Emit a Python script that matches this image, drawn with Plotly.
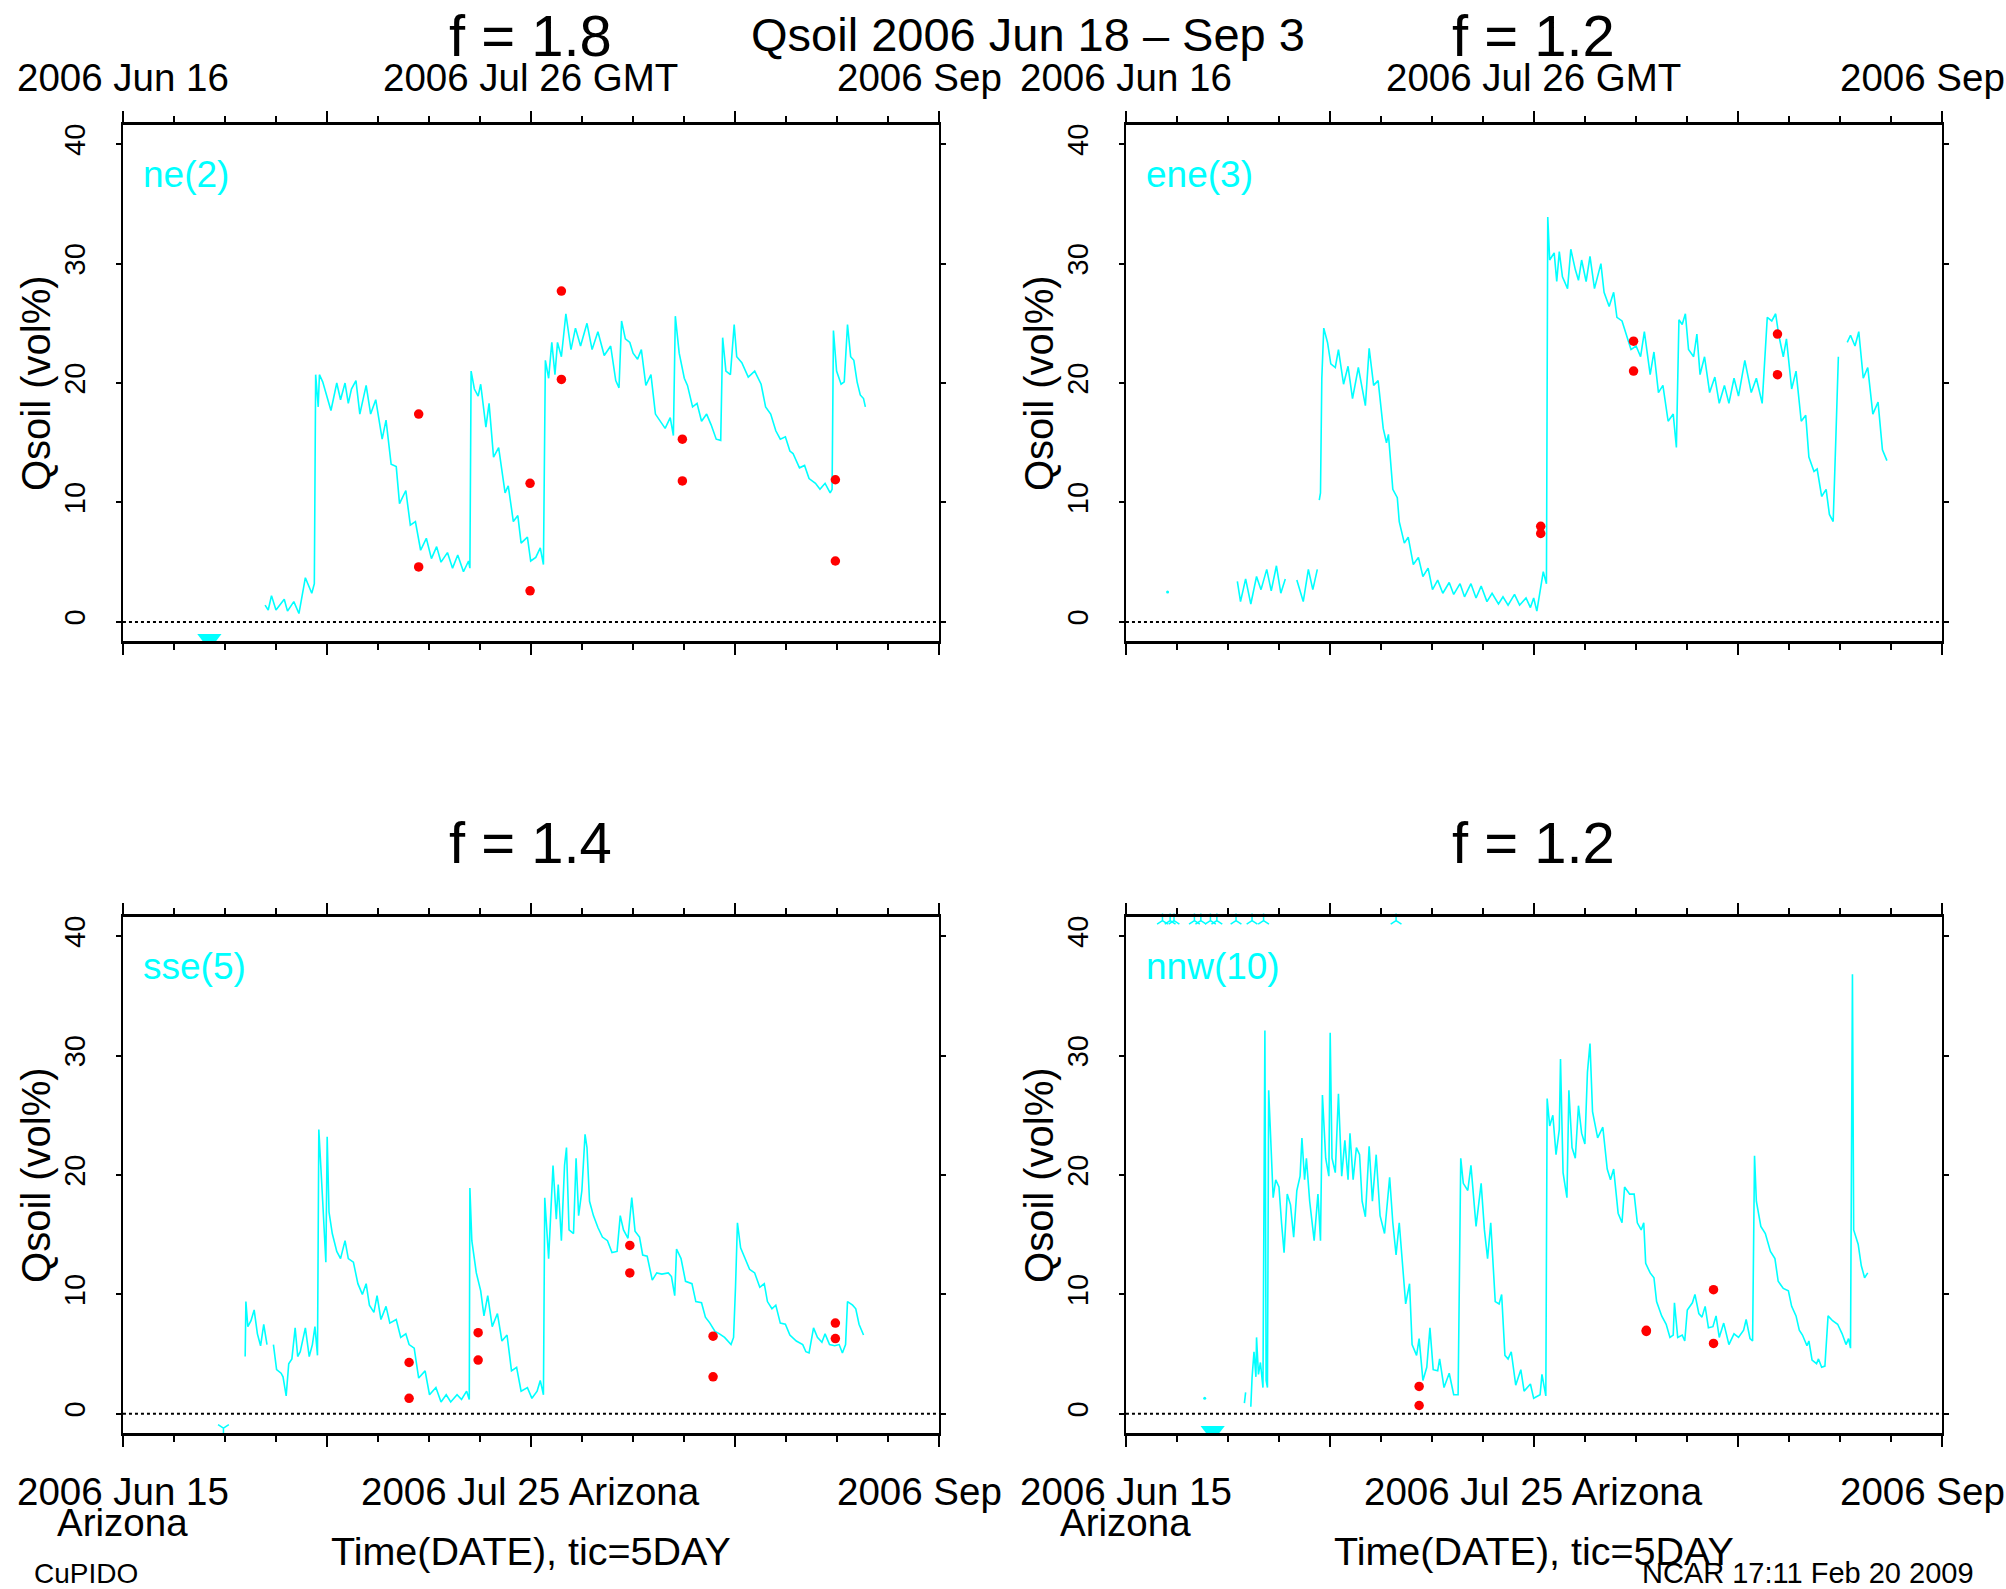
import plotly.graph_objects as go
import pandas as pd

# ---------------- time axis (GMT) ----------------
T0 = pd.Timestamp("2006-06-16 00:00:00")
SPAN_DAYS = 80
MAJOR_DAYS = 20
MINOR_DAYS = 5
Y_RANGE = [-1.6, 41.6]
Y_TICKS = [0, 10, 20, 30, 40]

MAIN_TITLE = "Qsoil 2006 Jun 18 – Sep 3"
PANEL_TITLES = ["f = 1.8", "f = 1.2", "f = 1.4", "f = 1.2"]
STATIONS = ["ne(2)", "ene(3)", "sse(5)", "nnw(10)"]
TOP_TICK_LABELS = ["2006 Jun 16", "2006 Jul 26 GMT", "2006 Sep"]
BOTTOM_TICK_LABELS = ["2006 Jun 15", "2006 Jul 25 Arizona", "2006 Sep"]
BOTTOM_SUBLABEL = "Arizona"
X_TITLE = "Time(DATE), tic=5DAY"
Y_TITLE = "Qsoil (vol%)"
FOOT_LEFT = "CuPIDO"
FOOT_RIGHT = "NCAR 17:11 Feb 20 2009"

# ---------------- series: (days since 2006 Jun 16 00 GMT, Qsoil vol%) ----------------
NE2_SERIES = [
    (13.93, 1.4), (14.24, 1.0), (14.56, 2.2), (15.00, 1.0), (15.81, 1.9), (16.13, 0.9), (16.75, 1.7),
    (17.25, 0.7), (17.88, 3.7), (18.51, 2.4), (18.76, 3.2), (18.89, 20.7), (19.14, 18.0), (19.26, 20.7),
    (19.58, 20.1), (20.39, 17.7), (20.96, 20.0), (21.33, 18.6), (21.77, 20.0), (22.09, 18.3), (22.40, 19.5),
    (22.84, 20.2), (23.22, 17.4), (23.84, 19.8), (24.28, 17.4), (24.78, 18.6), (25.41, 15.3), (25.79, 16.9),
    (26.29, 13.2), (26.79, 13.0), (27.11, 9.9), (27.73, 11.0), (28.17, 8.1), (28.67, 8.4), (29.18, 6.0),
    (29.74, 7.0), (30.24, 5.3), (30.75, 6.3), (31.18, 5.0), (31.81, 5.8), (32.31, 4.5), (32.82, 5.6),
    (33.38, 4.2), (33.88, 5.1), (34.01, 4.5), (34.13, 21.0), (34.45, 19.5), (34.82, 18.9), (35.07, 19.9),
    (35.58, 16.3), (35.89, 18.3), (36.33, 13.8), (36.83, 14.6), (37.46, 10.8), (37.77, 11.4), (38.27, 8.4),
    (38.71, 8.9), (39.03, 6.6), (39.65, 7.1), (39.97, 5.1), (40.47, 5.4), (40.91, 6.2), (41.22, 4.8),
    (41.41, 21.9), (41.73, 20.4), (42.04, 23.4), (42.35, 20.7), (42.60, 23.4), (42.98, 22.2), (43.42, 25.8),
    (43.92, 22.8), (44.36, 24.6), (44.86, 23.1), (45.49, 25.0), (45.99, 22.8), (46.56, 24.3), (47.18, 22.3),
    (47.81, 23.1), (48.31, 20.2), (48.63, 19.6), (48.88, 25.2), (49.25, 23.7), (49.69, 23.4), (50.01, 22.5),
    (50.45, 22.0), (50.82, 22.8), (51.26, 19.8), (51.76, 20.7), (52.20, 17.4), (52.71, 16.8), (53.15, 16.2),
    (53.65, 17.1), (53.96, 15.6), (54.15, 25.6), (54.53, 22.5), (55.03, 20.4), (55.34, 19.8), (55.84, 18.0),
    (56.28, 18.3), (56.72, 16.8), (57.22, 17.4), (57.66, 16.5), (58.16, 15.3), (58.60, 15.2), (58.79, 23.8),
    (59.11, 21.0), (59.55, 20.7), (59.92, 24.9), (60.17, 22.2), (60.67, 21.7), (61.30, 20.5), (61.93, 21.0),
    (62.56, 19.9), (63.00, 18.0), (63.50, 17.4), (64.00, 16.0), (64.44, 15.3), (64.94, 15.5), (65.38, 14.3),
    (65.69, 14.1), (66.32, 12.9), (66.82, 13.1), (67.26, 12.0), (67.89, 11.6), (68.33, 11.1), (68.83, 11.6),
    (69.33, 10.8), (69.52, 11.1), (69.65, 24.4), (69.96, 21.0), (70.40, 19.9), (70.71, 20.1), (71.03, 24.9),
    (71.34, 22.2), (71.65, 21.9), (71.97, 20.1), (72.28, 19.0), (72.60, 18.7), (72.78, 18.0),
]

ENE3_SERIES = [
    (10.92, 3.4), (11.23, 1.7), (11.73, 3.6), (12.24, 1.5), (12.80, 3.8), (13.24, 2.7), (13.80, 4.4),
    (14.24, 2.6), (14.75, 4.7), (15.18, 2.4), (15.62, 3.6), (16.20, None), (16.75, 3.5), (17.38, 1.7),
    (17.88, 4.4), (18.32, 2.7), (18.76, 4.4), (18.85, None), (18.95, 10.2), (19.07, 10.8), (19.20, 20.4),
    (19.39, 24.6), (19.76, 23.4), (20.08, 21.6), (20.52, 21.3), (20.83, 22.8), (21.33, 19.9), (21.77, 21.4),
    (22.21, 18.7), (22.78, 21.3), (23.47, 18.1), (23.84, 22.9), (24.28, 19.8), (24.72, 20.2), (25.22, 16.2),
    (25.54, 15.0), (25.73, 15.7), (26.16, 11.1), (26.60, 10.4), (26.79, 8.4), (27.29, 6.6), (27.67, 7.1),
    (28.17, 4.8), (28.67, 5.4), (29.11, 3.8), (29.62, 4.5), (30.05, 2.7), (30.56, 3.5), (31.06, 2.4),
    (31.69, 3.3), (32.13, 2.3), (32.75, 3.2), (33.19, 2.1), (33.82, 3.2), (34.32, 2.0), (34.82, 3.0),
    (35.39, 1.7), (35.89, 2.4), (36.52, 1.5), (36.96, 2.1), (37.46, 1.4), (38.09, 2.3), (38.59, 1.4),
    (39.22, 2.0), (39.65, 1.2), (39.97, 2.0), (40.28, 0.9), (40.60, 2.4), (40.91, 4.2), (41.22, 3.2),
    (41.35, 33.9), (41.54, 30.3), (41.98, 30.9), (42.23, 28.5), (42.48, 31.0), (42.79, 28.9), (43.29, 27.9),
    (43.61, 31.2), (44.05, 29.5), (44.36, 28.6), (44.67, 30.3), (45.11, 28.5), (45.49, 30.6), (45.93, 27.9),
    (46.56, 30.0), (46.87, 27.6), (47.37, 26.4), (47.81, 27.6), (48.13, 25.5), (48.63, 25.2), (49.07, 24.0),
    (49.51, 22.8), (50.01, 23.1), (50.45, 22.2), (50.82, 24.3), (51.39, 20.7), (51.76, 22.6), (52.20, 19.2),
    (52.64, 19.8), (53.15, 16.8), (53.65, 17.4), (53.96, 14.6), (54.21, 25.3), (54.53, 24.9), (54.84, 25.8),
    (55.15, 22.8), (55.65, 22.2), (55.97, 24.1), (56.28, 20.7), (56.72, 22.2), (57.22, 19.2), (57.73, 20.5),
    (58.16, 18.3), (58.67, 19.8), (59.11, 18.3), (59.61, 20.4), (60.05, 18.9), (60.67, 21.9), (61.30, 19.2),
    (61.80, 20.4), (62.37, 18.3), (62.87, 25.5), (63.31, 25.2), (63.69, 25.8), (64.00, 24.0), (64.44, 22.2),
    (64.75, 23.7), (65.26, 19.5), (65.69, 21.0), (66.20, 16.8), (66.64, 17.3), (66.95, 13.8), (67.45, 12.6),
    (67.76, 12.8), (68.20, 10.5), (68.64, 11.1), (68.96, 9.0), (69.33, 8.4), (69.59, 15.3), (69.84, 22.2),
    (70.30, None), (70.71, 23.4), (71.03, 24.0), (71.47, 23.1), (71.84, 24.3), (72.28, 20.4), (72.72, 21.3),
    (73.22, 17.4), (73.73, 18.4), (74.16, 14.4), (74.60, 13.5),
]

SSE5_SERIES = [
    (11.98, 4.8), (12.05, 9.4), (12.24, 7.3), (12.55, 7.8), (12.86, 8.7), (13.18, 6.7), (13.49, 5.7),
    (13.80, 7.5), (14.12, 5.8), (14.40, None), (14.75, 5.8), (15.06, 3.7), (15.50, 3.4), (15.69, 3.1),
    (16.00, 1.5), (16.25, 4.2), (16.56, 4.6), (16.88, 7.2), (17.13, 4.8), (17.38, 5.2), (17.88, 7.2),
    (18.26, 4.8), (18.57, 5.8), (18.82, 7.3), (19.07, 4.9), (19.20, 23.8), (19.58, 17.8), (19.89, 12.7),
    (20.02, 23.2), (20.20, 16.9), (20.52, 15.1), (20.96, 13.6), (21.33, 13.0), (21.77, 14.5), (22.09, 13.0),
    (22.59, 12.7), (23.03, 10.9), (23.47, 10.0), (23.84, 10.9), (24.16, 9.1), (24.60, 8.5), (24.91, 9.9),
    (25.29, 7.9), (25.79, 9.0), (26.16, 7.6), (26.79, 7.9), (27.23, 6.4), (27.73, 6.7), (28.05, 5.8),
    (28.55, 5.5), (28.99, 3.0), (29.62, 3.6), (30.05, 1.6), (30.68, 2.2), (31.18, 1.0), (31.69, 1.6),
    (32.13, 1.0), (32.75, 1.6), (33.19, 1.2), (33.69, 1.9), (33.95, 1.2), (34.01, 18.9), (34.20, 14.5),
    (34.64, 11.8), (35.07, 10.3), (35.39, 8.2), (35.76, 9.9), (36.20, 7.3), (36.71, 8.4), (37.15, 6.1),
    (37.65, 6.6), (38.09, 3.6), (38.59, 3.9), (39.03, 1.9), (39.65, 2.2), (40.09, 1.3), (40.60, 1.9),
    (40.91, 2.8), (41.22, 1.6), (41.35, 18.1), (41.73, 13.0), (42.16, 20.8), (42.48, 16.3), (42.67, 19.2),
    (42.98, 14.5), (43.29, 20.8), (43.48, 22.3), (43.73, 15.4), (44.17, 15.1), (44.42, 21.4), (44.67, 16.6),
    (44.99, 18.7), (45.30, 23.4), (45.49, 22.3), (45.74, 17.8), (46.12, 16.6), (46.56, 15.6), (47.00, 14.8),
    (47.50, 14.5), (47.94, 13.5), (48.44, 13.6), (48.75, 16.6), (49.07, 15.4), (49.51, 14.7), (49.88, 18.1),
    (50.20, 15.3), (50.64, 14.8), (50.95, 13.3), (51.39, 13.2), (51.89, 11.2), (52.33, 11.8), (52.83, 11.7),
    (53.46, 11.8), (53.77, 11.5), (54.09, 9.9), (54.27, 13.8), (54.71, 13.0), (55.15, 11.1), (55.78, 10.9),
    (56.16, 9.4), (56.72, 9.3), (57.10, 8.1), (57.54, 7.6), (58.04, 6.9), (58.48, 6.7), (58.98, 6.4),
    (59.61, 5.8), (59.86, 6.4), (60.05, 10.6), (60.24, 16.0), (60.55, 13.9), (60.99, 13.0), (61.43, 12.1),
    (61.93, 11.8), (62.43, 10.6), (62.87, 10.9), (63.18, 9.4), (63.62, 8.8), (64.00, 9.1), (64.44, 7.6),
    (64.94, 7.5), (65.38, 6.6), (66.01, 6.1), (66.64, 5.8), (66.95, 5.2), (67.26, 5.1), (67.70, 7.2),
    (68.08, 6.4), (68.52, 6.0), (68.83, 6.7), (69.27, 5.8), (69.77, 5.7), (70.21, 5.8), (70.53, 5.1),
    (70.84, 5.8), (71.03, 9.4), (71.53, 9.1), (71.84, 8.8), (72.16, 7.5), (72.60, 6.6),
]

NNW10_SERIES = [
    (11.61, 0.9), (11.73, 1.8), (12.00, None), (12.24, 0.6), (12.36, 3.0), (12.55, 5.2), (12.74, 3.1),
    (12.80, 6.4), (12.99, 3.3), (13.18, 4.3), (13.43, 2.2), (13.62, 32.1), (13.74, 2.8), (13.87, 2.2),
    (13.99, 27.1), (14.24, 22.0), (14.43, 18.1), (14.68, 19.6), (15.00, 19.0), (15.25, 16.0), (15.50, 13.5),
    (15.81, 18.4), (16.13, 17.5), (16.44, 14.8), (16.75, 18.7), (17.07, 19.9), (17.25, 23.1), (17.51, 19.6),
    (17.69, 21.4), (18.01, 17.8), (18.45, 14.5), (18.82, 18.4), (19.07, 14.5), (19.26, 26.7), (19.58, 21.4),
    (19.89, 19.9), (20.02, 31.9), (20.20, 21.4), (20.52, 20.2), (20.83, 26.8), (21.15, 19.9), (21.46, 22.9),
    (21.77, 19.6), (21.96, 23.5), (22.27, 19.6), (22.59, 22.3), (22.90, 21.7), (23.15, 17.8), (23.47, 16.5),
    (23.84, 22.4), (24.16, 17.8), (24.53, 21.7), (24.91, 16.6), (25.35, 15.1), (25.85, 19.8), (26.16, 16.0),
    (26.48, 13.3), (26.79, 16.0), (27.23, 11.5), (27.42, 9.2), (27.80, 10.9), (28.05, 5.8), (28.49, 4.9),
    (28.74, 6.3), (29.11, 2.8), (29.49, 3.9), (29.80, 7.2), (30.12, 3.7), (30.56, 3.6), (30.75, 4.6),
    (31.18, 2.2), (31.69, 3.4), (32.13, 1.6), (32.56, 1.6), (32.82, 21.4), (33.07, 19.3), (33.51, 18.7),
    (33.82, 20.8), (34.32, 15.7), (34.82, 19.3), (35.14, 15.4), (35.45, 13.0), (35.76, 16.0), (36.20, 9.4),
    (36.58, 9.2), (36.83, 10.0), (37.15, 4.9), (37.46, 4.6), (37.77, 5.2), (38.21, 2.4), (38.71, 3.7),
    (39.03, 1.9), (39.65, 2.5), (39.97, 1.3), (40.60, 1.6), (40.78, 3.3), (41.16, 1.5), (41.29, 26.4),
    (41.54, 24.1), (41.85, 25.0), (42.16, 21.7), (42.48, 23.8), (42.60, 29.7), (42.85, 20.2), (43.23, 18.1),
    (43.42, 27.1), (43.73, 22.3), (44.05, 21.4), (44.36, 25.8), (44.67, 23.5), (44.99, 22.6), (45.24, 28.6),
    (45.49, 31.0), (45.74, 25.3), (46.24, 23.1), (46.75, 24.0), (47.18, 20.5), (47.50, 19.6), (47.81, 20.5),
    (48.25, 16.8), (48.63, 16.0), (48.88, 19.0), (49.38, 18.4), (49.82, 18.4), (50.13, 16.0), (50.51, 15.4),
    (50.76, 16.0), (50.95, 12.6), (51.39, 11.8), (51.76, 11.4), (52.02, 9.4), (52.52, 8.2), (52.96, 7.5),
    (53.33, 6.4), (53.65, 6.6), (53.77, 9.3), (54.09, 6.4), (54.53, 6.6), (54.78, 6.1), (55.03, 8.7),
    (55.53, 9.3), (55.78, 10.0), (56.16, 8.4), (56.47, 8.1), (56.78, 9.0), (57.10, 7.2), (57.54, 7.3),
    (57.85, 8.2), (58.16, 6.4), (58.60, 7.6), (59.11, 5.8), (59.61, 6.7), (60.05, 6.4), (60.55, 7.0),
    (60.80, 7.9), (61.18, 6.3), (61.43, 6.1), (61.62, 21.6), (61.80, 17.8), (62.24, 15.7), (62.68, 15.1),
    (63.18, 13.6), (63.62, 13.0), (63.94, 11.1), (64.44, 10.5), (64.94, 10.3), (65.26, 9.0), (65.69, 8.2),
    (66.01, 7.0), (66.32, 6.6), (66.76, 5.7), (66.95, 6.1), (67.26, 4.5), (67.70, 4.2), (67.89, 4.6),
    (68.20, 3.9), (68.52, 4.0), (68.83, 8.2), (69.27, 7.8), (69.77, 7.5), (70.21, 6.7), (70.59, 5.8),
    (70.84, 6.3), (71.03, 5.5), (71.22, 36.8), (71.34, 15.4), (71.78, 14.2), (72.09, 12.4), (72.41, 11.4),
    (72.72, 11.8),
]

# isolated single samples (days, value)
ISOLATED = [[], [(4.08, 2.5)], [], [(7.72, 1.3)]]

# observed (gravimetric) samples, red dots
NE2_OBS_DAYS = [28.99, 28.99, 39.91, 39.91, 42.98, 42.98, 54.84, 54.84, 69.84, 69.84]
NE2_OBS_Q = [17.4, 4.6, 11.6, 2.6, 27.7, 20.3, 15.3, 11.8, 11.9, 5.1]
ENE3_OBS_DAYS = [40.66, 40.66, 49.76, 49.76, 63.87, 63.87]
ENE3_OBS_Q = [8.0, 7.4, 23.5, 21.0, 24.1, 20.7]
SSE5_OBS_DAYS = [28.05, 28.05, 34.82, 34.82, 49.69, 49.69, 57.85, 57.85, 69.84, 69.84]
SSE5_OBS_Q = [4.3, 1.3, 6.8, 4.5, 14.1, 11.8, 6.5, 3.1, 7.6, 6.3]
NNW10_OBS_DAYS = [28.74, 28.74, 51.01, 51.01, 57.60, 57.60]
NNW10_OBS_Q = [2.3, 0.7, 7.0, 6.9, 10.4, 5.9]

# off-scale flags: (days, value, symbol)
LOW_FLAGS = [[(8.47, -1.46, "triangle-down")], [], [(9.85, -1.2, "y-down")], [(8.50, -1.45, "triangle-down")]]
HIGH_FLAG_DAYS = [[], [], [], [3.58, 4.33, 4.71, 6.71, 7.34, 8.28, 8.91, 10.79, 12.36, 13.49, 26.48]]
HIGH_FLAG_VALUE = 41.3

# ---------------- styling ----------------
FONT = "Liberation Sans, Arial, Helvetica, sans-serif"
CYAN = "#00FFFF"
W, H = 2006, 1589
X_DOMAINS = [[0.0613, 0.4681], [0.5613, 0.9681], [0.0613, 0.4681], [0.5613, 0.9681]]
Y_DOMAINS = [[0.5966, 0.9213], [0.5966, 0.9213], [0.0982, 0.4229], [0.0982, 0.4229]]
DAY_MS = 86400000


def to_time(days):
    return [T0 + pd.Timedelta(days=d) for d in days]


SERIES = [NE2_SERIES, ENE3_SERIES, SSE5_SERIES, NNW10_SERIES]
OBS = [(NE2_OBS_DAYS, NE2_OBS_Q), (ENE3_OBS_DAYS, ENE3_OBS_Q),
       (SSE5_OBS_DAYS, SSE5_OBS_Q), (NNW10_OBS_DAYS, NNW10_OBS_Q)]

fig = go.Figure()
for i in range(4):
    n = "" if i == 0 else str(i + 1)
    xa, ya = "x" + n, "y" + n
    days, q = zip(*SERIES[i])
    fig.add_trace(go.Scatter(x=to_time(days), y=list(q), mode="lines", connectgaps=False,
                             line=dict(color=CYAN, width=1.6), xaxis=xa, yaxis=ya,
                             name=STATIONS[i], hoverinfo="skip"))
    if ISOLATED[i]:
        d, v = zip(*ISOLATED[i])
        fig.add_trace(go.Scatter(x=to_time(d), y=list(v), mode="markers",
                                 marker=dict(color=CYAN, size=3), xaxis=xa, yaxis=ya))
    od, oq = OBS[i]
    fig.add_trace(go.Scatter(x=to_time(od), y=oq, mode="markers",
                             marker=dict(color="red", size=9.5, line=dict(width=0)),
                             xaxis=xa, yaxis=ya))
    for (d, v, sym) in LOW_FLAGS[i]:
        big = sym == "triangle-down"
        fig.add_trace(go.Scatter(x=to_time([d]), y=[v], mode="markers",
                                 marker=dict(color=CYAN, symbol=sym, size=21 if big else 9,
                                             line=dict(color=CYAN, width=0 if big else 1.5)),
                                 xaxis=xa, yaxis=ya))
    if HIGH_FLAG_DAYS[i]:
        hd = HIGH_FLAG_DAYS[i]
        fig.add_trace(go.Scatter(x=to_time(hd), y=[HIGH_FLAG_VALUE] * len(hd), mode="markers",
                                 marker=dict(color=CYAN, symbol="y-up", size=9,
                                             line=dict(color=CYAN, width=1.5)),
                                 xaxis=xa, yaxis=ya, cliponaxis=False))
    # dotted zero reference line
    fig.add_shape(type="line", xref=xa + " domain", yref=ya, x0=0, x1=1, y0=0, y1=0,
                  line=dict(color="black", width=2, dash="dot"))

x_cfg = dict(
    type="date", range=[T0, T0 + pd.Timedelta(days=SPAN_DAYS)], showgrid=False, zeroline=False,
    showticklabels=False, ticks="outside", tick0=T0, dtick=MAJOR_DAYS * DAY_MS, ticklen=11,
    tickwidth=2, tickcolor="black", showline=True, linewidth=2.5, linecolor="black", mirror="ticks",
    minor=dict(ticks="outside", tick0=T0, dtick=MINOR_DAYS * DAY_MS, ticklen=6, tickwidth=1.5,
               tickcolor="black", showgrid=False),
    automargin=False,
)
y_cfg = dict(
    range=Y_RANGE, tickvals=Y_TICKS, ticktext=[str(v) for v in Y_TICKS], showgrid=False, zeroline=False,
    ticks="outside", ticklen=5, tickwidth=1.5, tickcolor="black", showline=True, linewidth=1.5,
    linecolor="black", mirror="ticks", tickangle=-90, ticklabelstandoff=20,
    tickfont=dict(size=29, color="black", family=FONT),
    automargin=False,
)

layout_axes = {}
for i in range(4):
    n = "" if i == 0 else str(i + 1)
    layout_axes["xaxis" + n] = dict(domain=X_DOMAINS[i], anchor="y" + n, **x_cfg)
    layout_axes["yaxis" + n] = dict(domain=Y_DOMAINS[i], anchor="x" + n, **y_cfg)

ann = []


def txt(text, x, y, size, xanchor="center", color="black", xref="paper", yref="paper", angle=0):
    ann.append(dict(text=text, x=x, y=y, xref=xref, yref=yref, xanchor=xanchor, yanchor="middle",
                    showarrow=False, textangle=angle, font=dict(size=size, color=color, family=FONT)))


TICK_FS = 38.5
txt(MAIN_TITLE, 1028 / W, 1 - 35 / H, 47)
title_y = [1 - 36 / H, 1 - 36 / H, 1 - 842 / H, 1 - 842 / H]
for i in range(4):
    x0, x1 = X_DOMAINS[i]
    y0, y1 = Y_DOMAINS[i]
    xm = (x0 + x1) / 2
    txt(PANEL_TITLES[i], xm, title_y[i], 58)
    # y-axis title
    txt(Y_TITLE, x0 - 87 / W, (y0 + y1) / 2, 40, angle=-90)
    n = "" if i == 0 else str(i + 1)
    txt(STATIONS[i], 0.022, 0.905, 37, xanchor="left", color=CYAN,
        xref="x" + n + " domain", yref="y" + n + " domain")
    sep_x = x0 + 0.8725 * (x1 - x0)
    if i < 2:
        ty = 1 - 77 / H
        txt(TOP_TICK_LABELS[0], x0, ty, TICK_FS)
        txt(TOP_TICK_LABELS[1], xm, ty, TICK_FS)
        txt(TOP_TICK_LABELS[2], sep_x, ty, TICK_FS, xanchor="left")
    else:
        by = 1 - 1491 / H
        txt(BOTTOM_TICK_LABELS[0], x0, by, TICK_FS)
        txt(BOTTOM_SUBLABEL, x0, 1 - 1522 / H, TICK_FS)
        txt(BOTTOM_TICK_LABELS[1], xm, by, TICK_FS)
        txt(BOTTOM_TICK_LABELS[2], sep_x, by, TICK_FS, xanchor="left")
        txt(X_TITLE, xm, 1 - 1551 / H, 39.5)

txt(FOOT_LEFT, 32 / W, 1 - 1573 / H, 28, xanchor="left")
txt(FOOT_RIGHT, 1640 / W, 1 - 1573 / H, 29, xanchor="left")

fig.update_layout(
    width=W, height=H, margin=dict(l=0, r=0, t=0, b=0, pad=0),
    paper_bgcolor="white", plot_bgcolor="white", showlegend=False,
    font=dict(family=FONT, color="black"), annotations=ann, **layout_axes,
)

fig.write_html("out.html", config={"displayModeBar": False},
               post_script="document.body.style.margin='0px';")
